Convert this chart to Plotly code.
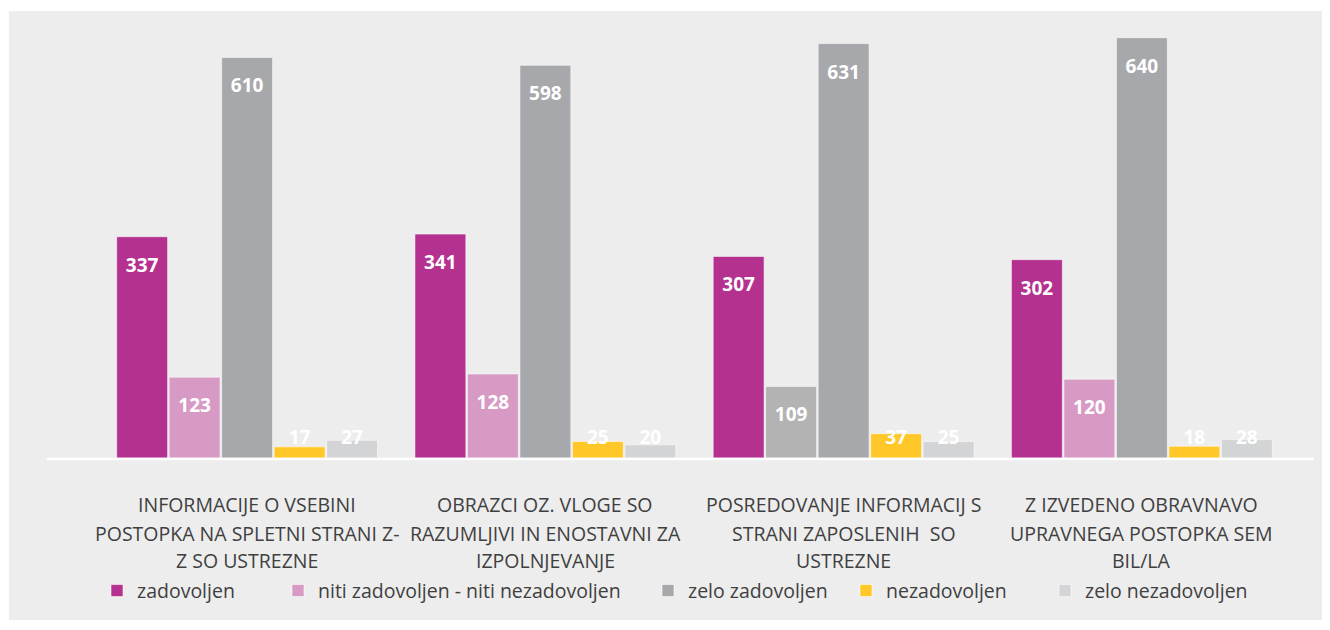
import plotly.graph_objects as go

categories = ["c1", "c2", "c3", "c4"]
category_lines = [
    ["INFORMACIJE O VSEBINI", "POSTOPKA NA SPLETNI STRANI Z-", "Z SO USTREZNE"],
    ["OBRAZCI OZ. VLOGE SO", "RAZUMLJIVI IN ENOSTAVNI ZA", "IZPOLNJEVANJE"],
    ["POSREDOVANJE INFORMACIJ S", "STRANI ZAPOSLENIH  SO", "USTREZNE"],
    ["Z IZVEDENO OBRAVNAVO", "UPRAVNEGA POSTOPKA SEM", "BIL/LA"],
]
series_names = ["zadovoljen", "niti zadovoljen - niti nezadovoljen", "zelo zadovoljen",
                "nezadovoljen", "zelo nezadovoljen"]
zadovoljen = [337, 341, 307, 302]
niti = [123, 128, 109, 120]
zelo_zadovoljen = [610, 598, 631, 640]
nezadovoljen = [17, 25, 37, 18]
zelo_nezadovoljen = [27, 20, 25, 28]
series_values = [zadovoljen, niti, zelo_zadovoljen, nezadovoljen, zelo_nezadovoljen]

colors = ["#B5318F", "#D79AC5", "#A7A8AB", "#FFC828", "#D3D4D6"]
point_colors = [
    [colors[0]] * 4,
    [colors[1], colors[1], "#B3B3B3", colors[1]],
    [colors[2]] * 4,
    [colors[3]] * 4,
    [colors[4]] * 4,
]

FONT = "Open Sans"
BARGAP = 0.12
ML, MR, MT, MB = 90, 39, 10, 172
FW, FH = 1322, 622
PW = FW - ML - MR
# left edges of legend items (figure px)
legend_left_px = [89, 270, 640, 838, 1037]

fig = go.Figure()
legend_ids = ["legend", "legend2", "legend3", "legend4", "legend5"]
for i, (name, vals) in enumerate(zip(series_names, series_values)):
    fig.add_trace(go.Bar(
        x=categories, y=vals, name=name, offsetgroup="g%d" % i,
        marker=dict(color=point_colors[i], line=dict(color="rgba(255,255,255,0.7)", width=0.8)),
        legend=legend_ids[i],
    ))
for i, vals in enumerate(series_values):
    fig.add_trace(go.Scatter(
        x=categories, y=[max(v - 46, 29) for v in vals],
        mode="text", text=[str(v) for v in vals],
        textfont=dict(family=FONT, size=19, color="white", weight="bold"),
        showlegend=False, hoverinfo="skip", offsetgroup="g%d" % i,
        cliponaxis=False,
    ))

annotations = []
line_y = [-0.1068, -0.1705, -0.234]
for cat, lines in zip(categories, category_lines):
    for ly, txt in zip(line_y, lines):
        annotations.append(dict(
            x=cat, xref="x", y=ly, yref="paper", text=txt, showarrow=False,
            xanchor="center", yanchor="middle",
            font=dict(family=FONT, size=19.5, color="#404040"),
        ))

legend_style = dict(orientation="h", y=-0.302, yanchor="middle", xanchor="left",
                    font=dict(family=FONT, size=19.5, color="#404040"),
                    bgcolor="rgba(0,0,0,0)", itemwidth=30)
legends = {}
for lid, lx in zip(legend_ids, legend_left_px):
    legends[lid] = dict(legend_style, x=(lx - ML) / PW)

fig.update_layout(
    width=FW, height=FH,
    margin=dict(l=ML, r=MR, t=MT, b=MB),
    paper_bgcolor="white", plot_bgcolor="rgba(0,0,0,0)",
    barmode="group", bargap=BARGAP, bargroupgap=0.03,
    scattermode="group", scattergap=BARGAP,
    xaxis=dict(type="category", range=[-0.5, 3.5], autorange=False,
               showticklabels=False, showgrid=False, zeroline=False, showline=False,
               fixedrange=True),
    yaxis=dict(range=[0, 670], visible=False, showgrid=False, zeroline=False),
    showlegend=True,
    annotations=annotations,
    shapes=[
        dict(type="rect", xref="paper", yref="paper", x0=-0.0747, x1=1.026,
             y0=-0.368, y1=1.016, fillcolor="#EDEDED", line=dict(width=0), layer="below"),
        dict(type="line", xref="paper", yref="paper", x0=-0.0428, x1=1.019,
             y0=-0.002, y1=-0.002, line=dict(color="white", width=2.5), layer="above"),
    ],
    **legends,
)

fig.write_html("out.html")
